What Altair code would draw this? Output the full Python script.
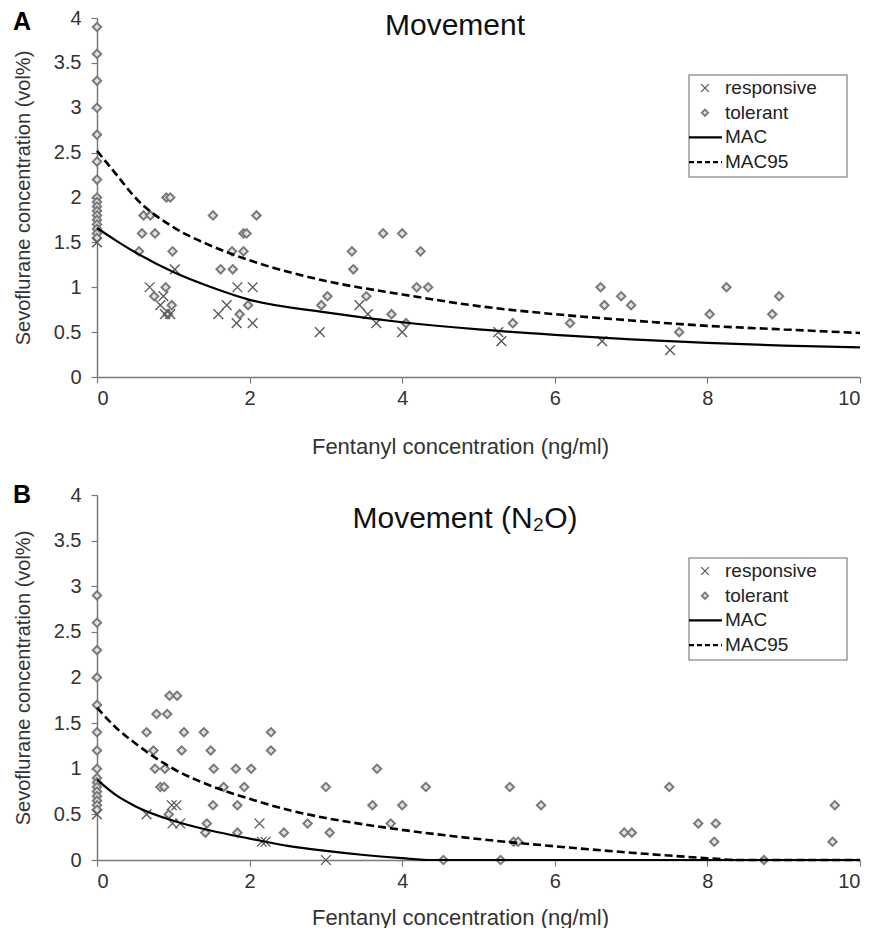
import altair as alt
import pandas as pd

FONT = "Liberation Sans"
X_PATH = "M-1,-1L1,1M-1,1L1,-1"

# ---- Panel A: movement -------------------------------------------------
a_tol_c = [0, 0, 0, 0, 0, 0, 0, 0, 0, 0, 0, 0, 0, 0, 0, 0, 0,
           0.91, 0.96, 0.61, 0.70, 1.52, 2.09, 0.59, 0.76, 1.92, 1.96,
           0.55, 0.99, 1.77, 1.92, 1.62, 1.78, 0.90, 0.75, 0.98, 1.98,
           0.93, 1.87, 3.75, 4.00, 3.34, 4.24, 3.36, 4.19, 4.34, 3.02,
           3.53, 2.94, 3.86, 4.05, 5.45, 6.20, 6.60, 6.65, 6.87, 7.00,
           7.63, 8.03, 8.25, 8.85, 8.94]
a_tol_s = [3.9, 3.6, 3.3, 3.0, 2.7, 2.4, 2.2, 2.0, 1.95, 1.9, 1.85, 1.8,
           1.75, 1.7, 1.65, 1.6, 1.55,
           2.0, 2.0, 1.8, 1.8, 1.8, 1.8, 1.6, 1.6, 1.6, 1.6,
           1.4, 1.4, 1.4, 1.4, 1.2, 1.2, 1.0, 0.9, 0.8, 0.8,
           0.7, 0.7, 1.6, 1.6, 1.4, 1.4, 1.2, 1.0, 1.0, 0.9,
           0.9, 0.8, 0.7, 0.6, 0.6, 0.6, 1.0, 0.8, 0.9, 0.8,
           0.5, 0.7, 1.0, 0.7, 0.9]
a_resp_c = [0, 1.02, 0.69, 1.84, 2.04, 0.87, 0.83, 1.70, 0.89, 0.96, 1.59,
            1.83, 2.04, 2.92, 3.44, 3.55, 3.66, 4.00, 5.26, 5.30, 6.62, 7.51]
a_resp_s = [1.5, 1.2, 1.0, 1.0, 1.0, 0.9, 0.8, 0.8, 0.7, 0.7, 0.7,
            0.6, 0.6, 0.5, 0.8, 0.7, 0.6, 0.5, 0.5, 0.4, 0.4, 0.3]
a_mac_c = [0, 0.25, 0.5, 1, 1.5, 2, 3, 4, 5, 6, 7, 8, 9, 10]
a_mac_s = [1.66, 1.52, 1.39, 1.17, 1.0, 0.86, 0.72, 0.61, 0.53, 0.47, 0.42, 0.38, 0.35, 0.33]
a_mac95_c = [0, 0.25, 0.5, 1, 1.5, 2, 3, 4, 5, 6, 7, 8, 9, 10]
a_mac95_s = [2.52, 2.26, 2.0, 1.67, 1.46, 1.30, 1.07, 0.92, 0.79, 0.70, 0.63, 0.57, 0.53, 0.49]

# ---- Panel B: movement with N2O ---------------------------------------
b_tol_c = [0, 0, 0, 0, 0, 0, 0, 0, 0, 0, 0, 0, 0, 0, 0, 0,
           0.95, 1.05, 0.78, 0.92, 0.65, 1.14, 1.40, 2.28, 0.74, 1.11,
           1.49, 2.28, 0.76, 0.89, 1.53, 1.82, 2.02, 0.83, 0.88, 1.66,
           1.93, 1.52, 1.84, 0.94, 1.44, 1.42, 1.84,
           3.67, 3.00, 4.31, 3.61, 4.00, 2.76, 3.85, 2.45, 3.05, 4.54,
           5.41, 5.82, 5.46, 5.52, 5.29, 6.91, 7.01, 7.50, 7.88, 8.11,
           8.09, 8.74, 9.67, 9.64]
b_tol_s = [2.9, 2.6, 2.3, 2.0, 1.7, 1.4, 1.2, 1.0, 0.9, 0.85, 0.8, 0.75,
           0.7, 0.65, 0.6, 0.55,
           1.8, 1.8, 1.6, 1.6, 1.4, 1.4, 1.4, 1.4, 1.2, 1.2,
           1.2, 1.2, 1.0, 1.0, 1.0, 1.0, 1.0, 0.8, 0.8, 0.8,
           0.8, 0.6, 0.6, 0.5, 0.4, 0.3, 0.3,
           1.0, 0.8, 0.8, 0.6, 0.6, 0.4, 0.4, 0.3, 0.3, 0.0,
           0.8, 0.6, 0.2, 0.2, 0.0, 0.3, 0.3, 0.8, 0.4, 0.4,
           0.2, 0.0, 0.6, 0.2]
b_resp_c = [0, 0.98, 1.04, 0.65, 0.99, 1.09, 2.13, 2.16, 2.21, 3.00]
b_resp_s = [0.5, 0.6, 0.6, 0.5, 0.4, 0.4, 0.4, 0.2, 0.2, 0.0]
b_mac_c = [0, 0.25, 0.5, 1, 1.5, 2, 2.5, 3, 3.5, 4, 4.4, 10]
b_mac_s = [0.88, 0.71, 0.59, 0.43, 0.32, 0.235, 0.155, 0.10, 0.055, 0.02, 0, 0]
b_mac95_c = [0, 0.25, 0.5, 1, 1.5, 2, 2.5, 3, 3.5, 4, 5, 6, 7, 8, 8.4, 10]
b_mac95_s = [1.67, 1.45, 1.28, 1.0, 0.81, 0.67, 0.55, 0.46, 0.39, 0.33, 0.23, 0.15, 0.08, 0.02, 0, 0]

legend_labels = ["responsive", "tolerant", "MAC", "MAC95"]
x_ticks = [0, 2, 4, 6, 8, 10]
y_ticks = [0, 0.5, 1, 1.5, 2, 2.5, 3, 3.5, 4]

PLOT_W = 763


def one_row(label):
    return pd.DataFrame({"label": [label]})


def panel(tol_c, tol_s, resp_c, resp_s, mac_c, mac_s, mac95_c, mac95_s,
          title, title_x, title_y, letter, letter_y, height, legend_top,
          xtitle_y, anchor=False):
    xs = alt.Scale(domain=[0, 10], nice=False, zero=False)
    ys = alt.Scale(domain=[0, 4], nice=False)
    xaxis = alt.Axis(values=x_ticks, title="Fentanyl concentration (ng/ml)",
                     grid=False, domainColor="#7a7a7a", domainWidth=1.5,
                     tickColor="#7a7a7a", tickSize=6, tickWidth=1.2,
                     labelFontSize=20, labelColor="#333333", labelPadding=5,
                     labelFont=FONT, titleFont=FONT, titleFontSize=22,
                     titleColor="#333333", titleFontWeight="normal",
                     titleX=363, titleY=xtitle_y, titleAlign="center",
                     titleBaseline="alphabetic")
    yaxis = alt.Axis(values=y_ticks, format="~g",
                     title="Sevoflurane concentration (vol%)",
                     grid=False, domainColor="#7a7a7a", domainWidth=1.5,
                     tickColor="#7a7a7a", tickSize=6, tickWidth=1.2,
                     labelFontSize=20, labelColor="#333333", labelPadding=10,
                     labelFont=FONT, titleFont=FONT, titleFontSize=20,
                     titleColor="#333333", titleFontWeight="normal",
                     titleX=-64, titleBaseline="bottom")
    enc = dict(x=alt.X("c:Q", scale=xs, axis=xaxis),
               y=alt.Y("s:Q", scale=ys, axis=yaxis))

    tol = alt.Chart(pd.DataFrame({"c": tol_c, "s": tol_s})).mark_point(
        shape="diamond", filled=True, fill="#e2e2e2", stroke="#7a7a7a",
        strokeWidth=2, size=70, opacity=1).encode(**enc)
    resp = alt.Chart(pd.DataFrame({"c": resp_c, "s": resp_s})).mark_point(
        shape=X_PATH, filled=False, stroke="#5a5a5a", strokeWidth=1.4,
        size=95, opacity=1).encode(**enc)
    mac = alt.Chart(pd.DataFrame({"c": mac_c, "s": mac_s})).mark_line(
        color="black", strokeWidth=2.2, interpolate="monotone").encode(**enc)
    mac95 = alt.Chart(pd.DataFrame({"c": mac95_c, "s": mac95_s})).mark_line(
        color="black", strokeWidth=2.6, strokeDash=[8, 4],
        interpolate="monotone").encode(**enc)

    head = alt.Chart(one_row(title)).mark_text(
        font=FONT, fontSize=30, align="center", baseline="alphabetic",
        color="#111111").encode(x=alt.value(title_x), y=alt.value(title_y),
                                text="label:N")
    tag = alt.Chart(one_row(letter)).mark_text(
        font=FONT, fontSize=25, fontWeight="bold", align="left",
        baseline="alphabetic", color="#000000").encode(
        x=alt.value(-84), y=alt.value(letter_y), text="label:N")

    # legend box with its four entries
    box_l, box_r = 592, 750
    box = alt.Chart(one_row("box")).mark_rect(
        fill="white", stroke="#9a9a9a", strokeWidth=1.5).encode(
        x=alt.value(box_l), x2=alt.value(box_r),
        y=alt.value(legend_top), y2=alt.value(legend_top + 102))
    layers = [tol, resp, mac, mac95, head, tag, box]
    sym_x, line_l, line_r, text_x = 608, 592, 625, 628
    for i, lab in enumerate(legend_labels):
        ry = legend_top + 13 + i * 24.7
        if lab == "responsive":
            layers.append(alt.Chart(one_row(lab)).mark_point(
                shape=X_PATH, filled=False, stroke="#5a5a5a", strokeWidth=1.3,
                size=60, opacity=1).encode(x=alt.value(sym_x), y=alt.value(ry)))
        elif lab == "tolerant":
            layers.append(alt.Chart(one_row(lab)).mark_point(
                shape="diamond", filled=True, fill="#e2e2e2", stroke="#7a7a7a",
                strokeWidth=1.8, size=40, opacity=1).encode(
                x=alt.value(sym_x), y=alt.value(ry)))
        else:
            dash = [1, 0] if lab == "MAC" else [5, 3]
            layers.append(alt.Chart(one_row(lab)).mark_rule(
                color="black", strokeWidth=2.2, strokeDash=dash).encode(
                x=alt.value(line_l), x2=alt.value(line_r),
                y=alt.value(ry), y2=alt.value(ry)))
        layers.append(alt.Chart(one_row(lab)).mark_text(
            font=FONT, fontSize=19, align="left", baseline="middle",
            color="#222222").encode(x=alt.value(text_x), y=alt.value(ry),
                                    text="label:N"))
    if anchor:
        layers.append(alt.Chart(one_row("o")).mark_rect(opacity=0).encode(
            x=alt.value(-97), x2=alt.value(-96),
            y=alt.value(-18), y2=alt.value(-17)))
    return alt.layer(*layers).properties(width=PLOT_W, height=height)


top = panel(a_tol_c, a_tol_s, a_resp_c, a_resp_s, a_mac_c, a_mac_s,
            a_mac95_c, a_mac95_s, "Movement", 358, 17, "A", 12, 359, 57,
            76, anchor=True)
bottom = panel(b_tol_c, b_tol_s, b_resp_c, b_resp_s, b_mac_c, b_mac_s,
               b_mac95_c, b_mac95_s, "Movement (N\u2082O)", 368, 33, "B", 8,
               365, 63, 64)

chart = alt.vconcat(top, bottom, spacing=118, bounds="flush").properties(
    padding=0, background="white").configure_view(stroke=None)

chart.save("out.html", embed_options={"renderer": "svg", "actions": False})
